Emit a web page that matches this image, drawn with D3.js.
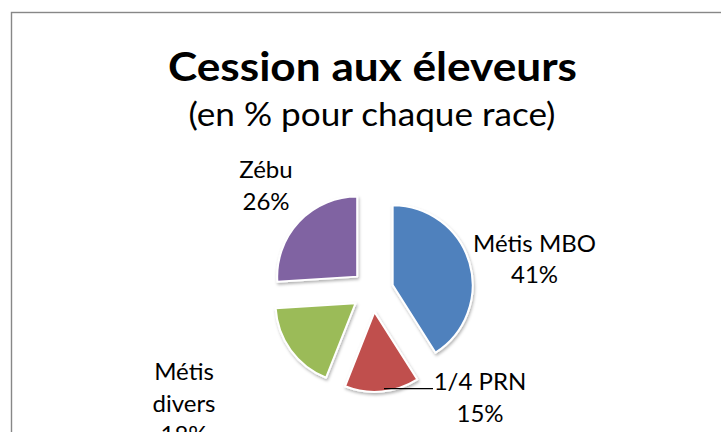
<!DOCTYPE html>
<html>
<head>
<meta charset="utf-8">
<script src="https://cdn.jsdelivr.net/npm/d3@7"></script>
<style>
  html, body { margin: 0; padding: 0; background: #fff; }
  svg { display: block; }
  text { font-family: Lato, "Open Sans", sans-serif; fill: #000; }
</style>
</head>
<body>
<svg id="chart" width="721" height="432"></svg>
<script>
// ---- data ----
const categories = ["Métis MBO", "1/4 PRN", "Métis divers", "Zébu"];
const values = [41, 15, 18, 26];
const labelLines = [["Métis MBO"], ["1/4 PRN"], ["Métis", "divers"], ["Zébu"]];
const colors = ["#4F81BD", "#C0504D", "#9BBB59", "#8064A2"];
const titleText = "Cession aux éleveurs";
const subtitleText = "(en % pour chaque race)";

// ---- layout ----
const W = 721, H = 432;
const cx = 372.5, cy = 291, radius = 80, explode = 21;
// label anchor (center x, first baseline) relative to pie center
const labelOffsets = [[162, -39.5], [107.5, 99], [-188.5, 89], [-106.5, -113]];
const lineGap = 31.7;

const svg = d3.select("#chart");

// frame
svg.append("rect")
  .attr("x", 11.5).attr("y", 12.5)
  .attr("width", 900).attr("height", 600)
  .attr("fill", "#fff").attr("stroke", "#878787").attr("stroke-width", 1.4);

// shadow filter
const defs = svg.append("defs");
const f = defs.append("filter").attr("id", "sh").attr("x", "-30%").attr("y", "-30%").attr("width", "160%").attr("height", "160%");
f.append("feDropShadow").attr("dx", 1).attr("dy", 2).attr("stdDeviation", 1.6)
  .attr("flood-color", "#000").attr("flood-opacity", 0.3);

// title
svg.append("text")
  .attr("x", cx).attr("y", 80.5)
  .attr("text-anchor", "middle")
  .attr("font-size", 41).attr("font-weight", 700)
  .attr("textLength", 409).attr("lengthAdjust", "spacingAndGlyphs")
  .text(titleText);

svg.append("text")
  .attr("x", 372).attr("y", 126)
  .attr("text-anchor", "middle")
  .attr("font-size", 32)
  .attr("textLength", 367).attr("lengthAdjust", "spacingAndGlyphs")
  .text(subtitleText);

// pie
const pie = d3.pie().sort(null).value(d => d).startAngle(0).endAngle(2 * Math.PI);
const arcs = pie(values);
const arc = d3.arc().innerRadius(0).outerRadius(radius);

const g = svg.append("g").attr("transform", `translate(${cx},${cy})`);
g.selectAll("path.slice")
  .data(arcs)
  .join("path")
  .attr("class", "slice")
  .attr("transform", d => {
    const a = (d.startAngle + d.endAngle) / 2;
    return `translate(${explode * Math.sin(a)},${-explode * Math.cos(a)})`;
  })
  .attr("d", arc)
  .attr("fill", (d, i) => colors[i])
  .attr("stroke", "#fff")
  .attr("stroke-width", 2)
  .attr("stroke-linejoin", "round")
  .attr("filter", "url(#sh)");

// leader line for 1/4 PRN
{
  const d = arcs[1];
  const a = (d.startAngle + d.endAngle) / 2;
  const ox = explode * Math.sin(a), oy = -explode * Math.cos(a);
  const px = ox + radius * Math.sin(a), py = oy - radius * Math.cos(a);
  g.append("line")
    .attr("x1", px + 2).attr("y1", py - 3)
    .attr("x2", labelOffsets[1][0] - 47).attr("y2", py - 3)
    .attr("stroke", "#000").attr("stroke-width", 1.3);
}

// labels
const lab = g.selectAll("g.lab")
  .data(arcs)
  .join("g")
  .attr("class", "lab")
  .attr("transform", (d, i) => `translate(${labelOffsets[i][0]},${labelOffsets[i][1]})`);

lab.each(function(d, i) {
  const sel = d3.select(this);
  const lines = labelLines[i].concat([Math.round(d.data) + "%"]);
  lines.forEach((t, k) => {
    sel.append("text")
      .attr("x", 0).attr("y", k * lineGap)
      .attr("text-anchor", "middle")
      .attr("font-size", 24)
      .text(t);
  });
});
</script>
</body>
</html>
